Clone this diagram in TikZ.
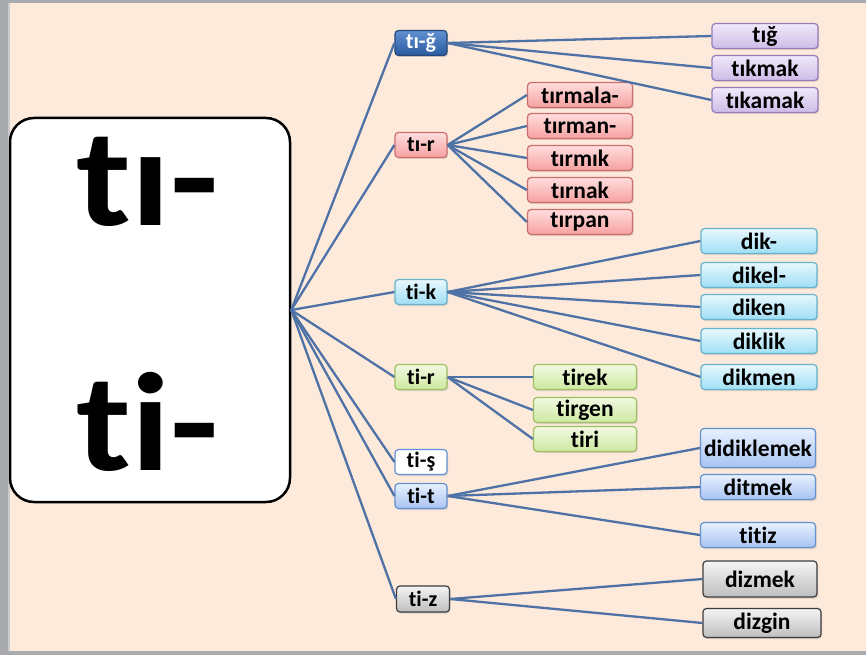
\documentclass[tikz,border=0pt]{standalone}
\usepackage{fontspec}
\setmainfont{Carlito}[Ligatures={NoCommon}]
\usetikzlibrary{shadows}
% palette
\definecolor{bgpeach}{RGB}{253,234,219}
\definecolor{framegray}{RGB}{168,170,174}
\definecolor{framelight}{RGB}{200,202,205}
\definecolor{linkblue}{RGB}{78,113,166}
\definecolor{darkblueT}{RGB}{98,145,210}
\definecolor{darkblueB}{RGB}{40,90,158}
\definecolor{darkblueD}{RGB}{36,70,120}
\definecolor{pinkT}{RGB}{255,222,222}
\definecolor{pinkB}{RGB}{246,160,160}
\definecolor{pinkD}{RGB}{205,110,108}
\definecolor{purpT}{RGB}{240,233,250}
\definecolor{purpB}{RGB}{205,188,232}
\definecolor{purpD}{RGB}{150,125,185}
\definecolor{cyanT}{RGB}{232,248,253}
\definecolor{cyanB}{RGB}{160,222,244}
\definecolor{cyanD}{RGB}{100,180,205}
\definecolor{greenT}{RGB}{242,249,225}
\definecolor{greenB}{RGB}{205,232,160}
\definecolor{greenD}{RGB}{160,192,100}
\definecolor{lblueT}{RGB}{232,240,253}
\definecolor{lblueB}{RGB}{168,196,242}
\definecolor{lblueD}{RGB}{100,145,210}
\definecolor{grayT}{RGB}{244,244,244}
\definecolor{grayB}{RGB}{190,190,190}
\definecolor{grayD}{RGB}{60,60,60}
\tikzset{
  box/.style={draw, line width=1.2pt, rounded corners=3.5pt, inner sep=0pt,
    minimum height=25pt, font=\fontsize{23.5}{26}\selectfont\bfseries,
    drop shadow={shadow xshift=1.2pt, shadow yshift=-1.5pt, opacity=0.25}},
  mid/.style={box, minimum width=52pt, font=\fontsize{22}{24}\selectfont\bfseries},
  link/.style={draw=linkblue, line width=2.3pt},
  bigtext/.style={anchor=base, font=\fontsize{140}{150}\selectfont\bfseries},
  dkblue/.style={top color=darkblueT, bottom color=darkblueB, draw=darkblueD, text=white},
  pinkbox/.style={top color=pinkT, bottom color=pinkB, draw=pinkD},
  purpbox/.style={top color=purpT, bottom color=purpB, draw=purpD},
  cyanbox/.style={top color=cyanT, bottom color=cyanB, draw=cyanD},
  greenbox/.style={top color=greenT, bottom color=greenB, draw=greenD},
  lbluebox/.style={top color=lblueT, bottom color=lblueB, draw=lblueD},
  graybox/.style={top color=grayT, bottom color=grayB, draw=grayD},
  whitebox/.style={fill=white, draw=lblueD}
}
\begin{document}
\begin{tikzpicture}[x=1pt,y=-1pt]
\useasboundingbox (0,0) rectangle (866,655);
% page background and frame
\fill[bgpeach] (0,0) rectangle (866,655);
\fill[framegray] (0,0) rectangle (866,3);
\fill[framegray] (0,0) rectangle (8,655);
\fill[framelight] (8,3) rectangle (10,651);
\fill[framegray] (0,651) rectangle (866,655);

% root box
\node[draw=black, line width=2.5pt, fill=white, rounded corners=24pt,
      minimum width=280pt, minimum height=384pt, inner sep=0pt] (root) at (150,310) {};
\node[bigtext] (rootA) at (148,225) {\scalebox{1.13}[1]{tı-}};
\node[bigtext] (rootB) at (148,470) {\scalebox{1.13}[1]{ti-}};

% second level
\node[mid, dkblue]   (tig) at (421,43)  {tı-ğ};
\node[mid, pinkbox]  (tir) at (421,145) {tı-r};
\node[mid, cyanbox]  (tik) at (421,292) {ti-k};
\node[mid, greenbox] (tir2) at (421,377) {ti-r};
\node[mid, whitebox] (tis) at (421,462) {ti-ş};
\node[mid, lbluebox] (tit) at (421,496) {ti-t};
\node[mid, graybox, minimum width=53pt, minimum height=26pt] (tiz) at (423,599) {ti-z};

% leaves
\node[box, purpbox, minimum width=106pt] (l1) at (765,36)  {tığ};
\node[box, purpbox, minimum width=106pt] (l2) at (765,68)  {tıkmak};
\node[box, purpbox, minimum width=106pt] (l3) at (765,100) {tıkamak};

\node[box, pinkbox, minimum width=105pt] (p1) at (580,95)  {tırmala-};
\node[box, pinkbox, minimum width=105pt] (p2) at (580,126) {tırman-};
\node[box, pinkbox, minimum width=105pt] (p3) at (580,158) {tırmık};
\node[box, pinkbox, minimum width=105pt] (p4) at (580,190) {tırnak};
\node[box, pinkbox, minimum width=105pt] (p5) at (580,222) {tırpan};

\node[box, cyanbox, minimum width=116pt] (c1) at (759,241) {dik-};
\node[box, cyanbox, minimum width=116pt] (c2) at (759,275) {dikel-};
\node[box, cyanbox, minimum width=116pt] (c3) at (759,307) {diken};
\node[box, cyanbox, minimum width=116pt] (c4) at (759,341) {diklik};
\node[box, cyanbox, minimum width=116pt] (c5) at (759,377) {dikmen};

\node[box, greenbox, minimum width=103pt] (g1) at (585,377) {tirek};
\node[box, greenbox, minimum width=103pt] (g2) at (585,410) {tirgen};
\node[box, greenbox, minimum width=103pt] (g3) at (585,439) {tiri};

\node[box, lbluebox, minimum width=115pt, minimum height=39pt] (b1) at (758,448) {didiklemek};
\node[box, lbluebox, minimum width=115pt] (b2) at (758,487) {ditmek};
\node[box, lbluebox, minimum width=115pt] (b3) at (758,535) {titiz};

\node[box, graybox, minimum width=114pt, minimum height=36pt] (d1) at (760,579) {dizmek};
\node[box, graybox, minimum width=118pt, minimum height=29pt] (d2) at (762,623) {dizgin};

% connectors
\foreach \m in {tig,tir,tik,tir2,tis,tit,tiz}
  \draw[link] (root.east) -- (\m.west);
\foreach \l in {l1,l2,l3} \draw[link] (tig.east) -- (\l.west);
\foreach \l in {p1,p2,p3,p4,p5} \draw[link] (tir.east) -- (\l.west);
\foreach \l in {c1,c2,c3,c4,c5} \draw[link] (tik.east) -- (\l.west);
\foreach \l in {g1,g2,g3} \draw[link] (tir2.east) -- (\l.west);
\foreach \l in {b1,b2,b3} \draw[link] (tit.east) -- (\l.west);
\foreach \l in {d1,d2} \draw[link] (tiz.east) -- (\l.west);
\end{tikzpicture}
\end{document}
